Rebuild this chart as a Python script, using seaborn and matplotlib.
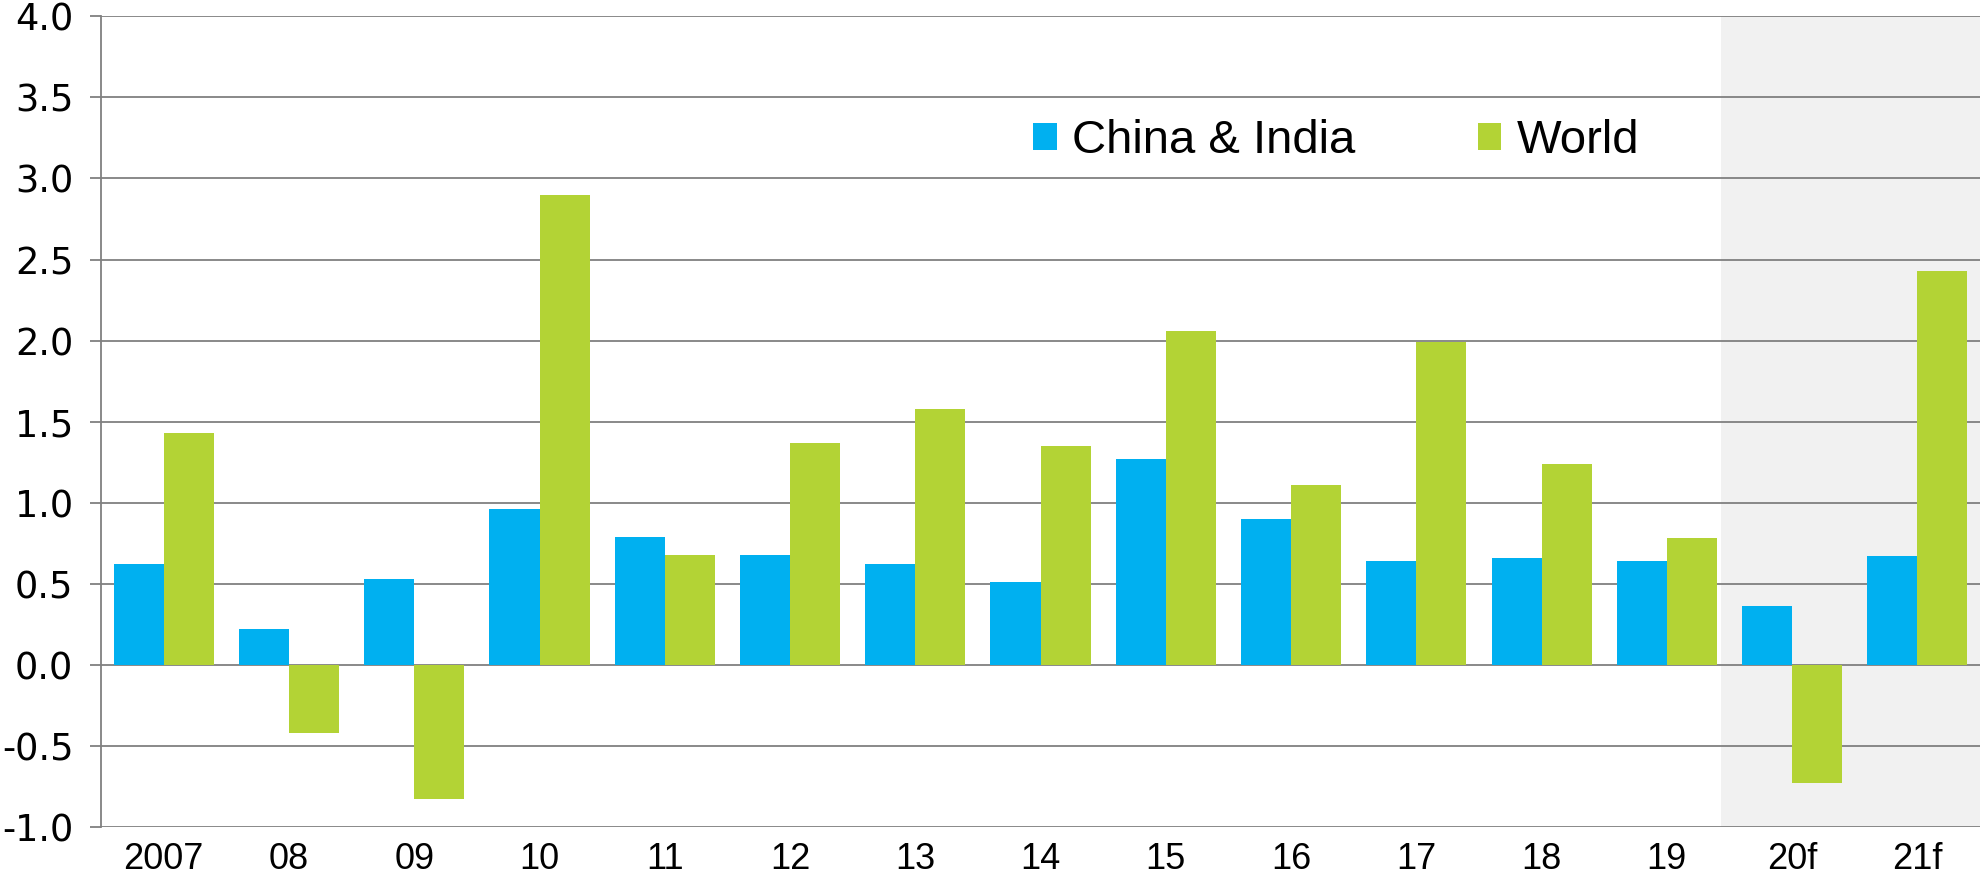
import numpy as np
import pandas as pd
import matplotlib
matplotlib.use("Agg")
import matplotlib.pyplot as plt
import seaborn as sns

# ── data ──────────────────────────────────────────────────────────────────────
years        = ["2007", "08", "09", "10", "11", "12", "13", "14",
                "15", "16", "17", "18", "19", "20f", "21f"]
china_india  = [0.62, 0.22, 0.53, 0.96, 0.79, 0.68, 0.62, 0.51,
                1.27, 0.90, 0.64, 0.66, 0.64, 0.36, 0.67]
world        = [1.43, -0.42, -0.83, 2.90, 0.68, 1.37, 1.58, 1.35,
                2.06, 1.11, 1.99, 1.24, 0.78, -0.73, 2.43]
series_names = ["China & India", "World"]
y_ticks      = [-1.0, -0.5, 0.0, 0.5, 1.0, 1.5, 2.0, 2.5, 3.0, 3.5, 4.0]

colors = {"China & India": "#00B0F0", "World": "#B3D335"}
grid_c = "#808080"

df = pd.DataFrame({
    "year":   years * 2,
    "series": [series_names[0]] * len(years) + [series_names[1]] * len(years),
    "value":  china_india + world,
})

sns.set_style("white")
plt.rcParams["font.family"] = ["Liberation Sans", "DejaVu Sans"]
plt.rcParams["text.color"] = "black"

fig = plt.figure(figsize=(19.8, 8.84), dpi=100)
ax = fig.add_axes([0.0511, 0.0645, 0.9489, 0.9170])

# forecast shading
ax.axvspan(12.43, 14.5, color="#F1F1F1", zorder=0, lw=0)

sns.barplot(
    data=df, x="year", y="value", hue="series",
    order=years, hue_order=series_names, palette=colors,
    width=0.8, saturation=1, linewidth=0, ax=ax, zorder=3,
)

ax.set_xlim(-0.5, 14.5)
ax.set_ylim(-1.0, 4.0)
ax.set_yticks(y_ticks)
ax.set_yticklabels([f"{t:.1f}" for t in y_ticks],
                   fontfamily="DejaVu Sans", fontsize=26.5)
ax.set_xlabel("")
ax.set_ylabel("")

for t in y_ticks:
    ax.axhline(t, color=grid_c, lw=1.3, zorder=1)

for side in ["top", "right", "bottom"]:
    ax.spines[side].set_visible(False)
ax.spines["left"].set_color(grid_c)
ax.spines["left"].set_linewidth(1.3)
ax.spines["left"].set_zorder(2)

ax.tick_params(axis="y", length=8, width=1.3, color=grid_c, pad=12,
               labelcolor="black", left=True)
ax.tick_params(axis="x", length=0, pad=11, labelsize=26, labelcolor="black")

ax.legend(
    loc="center left", bbox_to_anchor=(0.496, 0.846), ncol=2,
    frameon=False, fontsize=34, handlelength=0.5, handleheight=0.5,
    handletextpad=0.32, columnspacing=2.6, borderpad=0, borderaxespad=0,
    labelcolor="black",
)

fig.savefig("out.png", dpi=100)
